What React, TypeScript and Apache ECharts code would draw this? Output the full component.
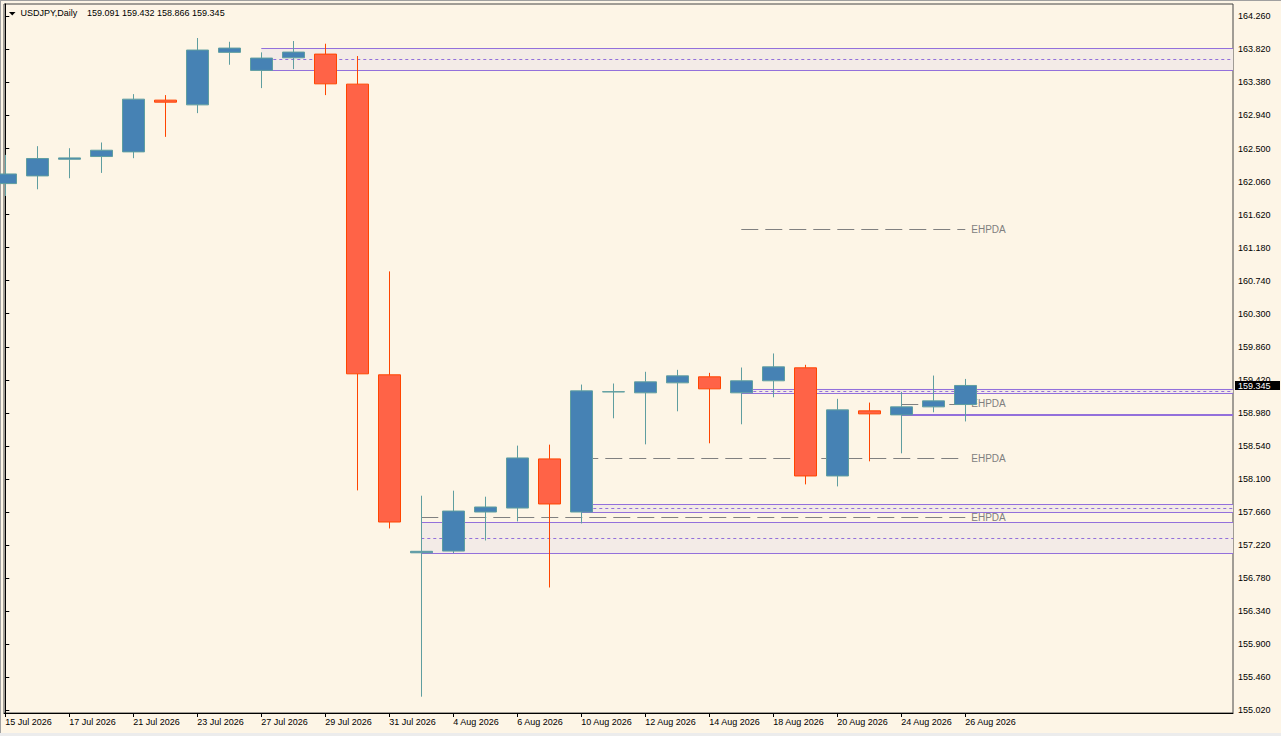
import React, { useEffect, useRef } from 'react';
import * as echarts from 'echarts';

// ---- data ----
const dates = [
  '15 Jul 2026', '16 Jul 2026', '17 Jul 2026', '20 Jul 2026', '21 Jul 2026', '22 Jul 2026', '23 Jul 2026',
  '24 Jul 2026', '27 Jul 2026', '28 Jul 2026', '29 Jul 2026', '30 Jul 2026', '31 Jul 2026', '3 Aug 2026',
  '4 Aug 2026', '5 Aug 2026', '6 Aug 2026', '7 Aug 2026', '10 Aug 2026', '11 Aug 2026', '12 Aug 2026',
  '13 Aug 2026', '14 Aug 2026', '17 Aug 2026', '18 Aug 2026', '19 Aug 2026', '20 Aug 2026', '21 Aug 2026',
  '24 Aug 2026', '25 Aug 2026', '26 Aug 2026',
];
const opens = [162.033, 162.135, 162.357, 162.393, 162.455, 163.144, 163.081, 163.78, 163.54, 163.708, 163.757, 163.357, 159.487, 157.117, 157.14, 157.66, 157.713, 158.367, 157.66, 159.259, 159.247, 159.38, 159.46, 159.247, 159.407, 159.58, 158.14, 159.007, 158.953, 159.06, 159.091];
const closes = [162.161, 162.367, 162.375, 162.477, 163.157, 163.117, 163.811, 163.837, 163.704, 163.784, 163.361, 159.5, 157.527, 157.137, 157.673, 157.727, 158.38, 157.767, 159.273, 159.262, 159.393, 159.473, 159.3, 159.407, 159.593, 158.14, 159.02, 158.967, 159.06, 159.14, 159.345];
const lows = [161.868, 161.957, 162.104, 162.175, 162.371, 162.655, 162.971, 163.615, 163.304, 163.557, 163.211, 157.948, 157.441, 155.201, 157.113, 157.281, 157.535, 156.655, 157.508, 158.908, 158.561, 159.001, 158.575, 158.828, 159.188, 158.028, 158.001, 158.335, 158.441, 158.988, 158.866];
const highs = [162.415, 162.531, 162.504, 162.58, 163.224, 163.211, 163.971, 163.921, 163.78, 163.931, 163.895, 163.731, 160.864, 157.877, 157.944, 157.864, 158.544, 158.557, 159.357, 159.371, 159.527, 159.553, 159.513, 159.584, 159.771, 159.62, 159.167, 159.117, 159.26, 159.477, 159.432];

const xTickIdx = [0, 2, 4, 6, 8, 10, 12, 14, 16, 18, 20, 22, 24, 26, 28, 30];
const yTicks = [155.02, 155.46, 155.9, 156.34, 156.78, 157.22, 157.66, 158.1, 158.54, 158.98, 159.42, 159.86, 160.3, 160.74, 161.18, 161.62, 162.06, 162.5, 162.94, 163.38, 163.82, 164.26];

// zones (start bar index, top, middle, bottom)
const zoneStart = [8, 13, 18, 23];
const zoneTop = [163.833, 157.527, 157.767, 159.3];
const zoneMid = [163.686, 157.313, 157.713, 159.273];
const zoneBottom = [163.54, 157.113, 157.66, 159.247];

// single solid level
const levelStart = [28];
const levelPrice = [158.961];

// EHPDA dashed levels
const ehpdaStart = [23, 28, 18, 13];
const ehpdaPrice = [161.424, 159.1, 158.371, 157.593];
const ehpdaEnd = 30;

const symbolName = 'USDJPY,Daily';
const headerValues = '159.091 159.432 158.866 159.345';
const lastPrice = 159.345;

// axis limits
const xMin = -0.04;
const xMax = 38.366;
const yMin = 154.984;
const yMax = 164.424;

const FONT = 'Liberation Sans';
const PURPLE = '#9370DB';
const GRAY = '#808080';

export default function App() {
  const ref = useRef<HTMLDivElement>(null);

  useEffect(() => {
    document.body.style.margin = '0';
    const chart = echarts.init(ref.current as HTMLDivElement, null, { renderer: 'svg' });

    const candleData = opens.map((o, i) => [i, o, closes[i], lows[i], highs[i]]);

    const zoneAreas = zoneStart.map((s, i) => [
      { coord: [s, zoneTop[i]] },
      { coord: [xMax, zoneBottom[i]] },
    ]);
    const zoneLines: any[] = [];
    zoneStart.forEach((s, i) => {
      zoneLines.push([{ coord: [s, zoneTop[i]], lineStyle: { color: PURPLE, width: 1, type: 'solid' } }, { coord: [xMax, zoneTop[i]] }]);
      zoneLines.push([{ coord: [s, zoneBottom[i]], lineStyle: { color: PURPLE, width: 1, type: 'solid' } }, { coord: [xMax, zoneBottom[i]] }]);
      zoneLines.push([{ coord: [s, zoneMid[i]], lineStyle: { color: PURPLE, width: 1, type: [3, 3] } }, { coord: [xMax, zoneMid[i]] }]);
    });
    levelStart.forEach((s, i) => {
      zoneLines.push([{ coord: [s, levelPrice[i]], lineStyle: { color: PURPLE, width: 2, type: 'solid' } }, { coord: [xMax, levelPrice[i]] }]);
    });

    const ehpdaLines = ehpdaStart.map((s, i) => [
      { coord: [s, ehpdaPrice[i]] },
      { coord: [ehpdaEnd, ehpdaPrice[i]] },
    ]);

    const option: any = {
      animation: false,
      backgroundColor: '#FDF5E6',
      grid: {
        left: 4, top: 4, right: 48, bottom: 23,
        show: true, borderColor: '#444', borderWidth: 1, backgroundColor: 'transparent',
      },
      xAxis: {
        type: 'value',
        min: xMin,
        max: xMax,
        splitLine: { show: false },
        axisLine: { show: true, onZero: false, lineStyle: { color: '#000', width: 1 } },
        axisTick: { show: true, length: 4, lineStyle: { color: '#000' }, customValues: xTickIdx },
        axisLabel: {
          customValues: xTickIdx,
          formatter: (v: number) => dates[Math.round(v)] || '',
          align: 'left',
          margin: 4,
          color: '#000',
          fontFamily: FONT,
          fontSize: 9,
        },
      },
      yAxis: {
        type: 'value',
        position: 'right',
        min: yMin,
        max: yMax,
        scale: true,
        splitLine: { show: false },
        axisLine: { show: true, lineStyle: { color: '#000', width: 1 } },
        axisTick: { show: true, length: 4, lineStyle: { color: '#000' }, customValues: yTicks },
        axisLabel: {
          customValues: yTicks,
          formatter: (v: number) => v.toFixed(3),
          margin: 5,
          color: '#000',
          fontFamily: FONT,
          fontSize: 9,
        },
      },
      series: [
        {
          name: 'zones',
          type: 'line',
          data: [],
          z: 1,
          silent: true,
          markArea: {
            silent: true,
            z: 0,
            itemStyle: { color: '#F3EBE7', borderWidth: 0 },
            label: { show: false },
            data: zoneAreas,
          },
          markLine: {
            silent: true,
            z: 1,
            symbol: ['none', 'none'],
            label: { show: false },
            data: zoneLines,
          },
        },
        {
          name: 'ehpda',
          type: 'line',
          data: [],
          z: 1,
          silent: true,
          markLine: {
            silent: true,
            z: 1,
            symbol: ['none', 'none'],
            lineStyle: { color: GRAY, width: 1, type: [17, 7] },
            label: {
              show: true,
              position: 'end',
              formatter: 'EHPDA',
              color: GRAY,
              fontFamily: FONT,
              fontSize: 10,
              distance: 6,
            },
            data: ehpdaLines,
          },
        },
        {
          name: 'USDJPY',
          type: 'candlestick',
          z: 10,
          barWidth: 23,
          clip: true,
          data: candleData,
          itemStyle: {
            color: '#4682B4',
            color0: '#FF6347',
            borderColor: '#5F9EA0',
            borderColor0: '#FF4500',
            borderWidth: 1,
          },
        },
      ],
    };

    chart.setOption(option);

    const py = chart.convertToPixel({ yAxisIndex: 0 } as any, lastPrice) as number;

    chart.setOption({
      graphic: [
        { type: 'rect', shape: { x: 0, y: 0, width: 1281, height: 1 }, style: { fill: '#A0A0A0' }, silent: true },
        { type: 'rect', shape: { x: 0, y: 0, width: 1, height: 736 }, style: { fill: '#A0A0A0' }, silent: true },
        { type: 'rect', shape: { x: 0, y: 733, width: 1281, height: 3 }, style: { fill: '#ECECEC' }, silent: true },
        { type: 'polygon', shape: { points: [[9, 12], [15.5, 12], [12.25, 15.5]] }, style: { fill: '#000' }, silent: true },
        { type: 'text', x: 20.5, y: 13, style: { text: symbolName, fill: '#000', font: `9px "${FONT}"`, verticalAlign: 'middle', align: 'left' }, silent: true },
        { type: 'text', x: 87, y: 13, style: { text: headerValues, fill: '#000', font: `9px "${FONT}"`, verticalAlign: 'middle', align: 'left' }, silent: true },
        { type: 'rect', z: 100, shape: { x: 1235, y: Math.round(py) - 4, width: 45, height: 9 }, style: { fill: '#000' }, silent: true },
        { type: 'text', z: 101, x: 1238, y: py + 0.5, style: { text: lastPrice.toFixed(3), fill: '#fff', font: `9px "${FONT}"`, verticalAlign: 'middle', align: 'left' }, silent: true },
      ],
    });

    return () => chart.dispose();
  }, []);

  return <div ref={ref} style={{ position: 'fixed', left: 0, top: 0, width: 1281, height: 736 }} />;
}
